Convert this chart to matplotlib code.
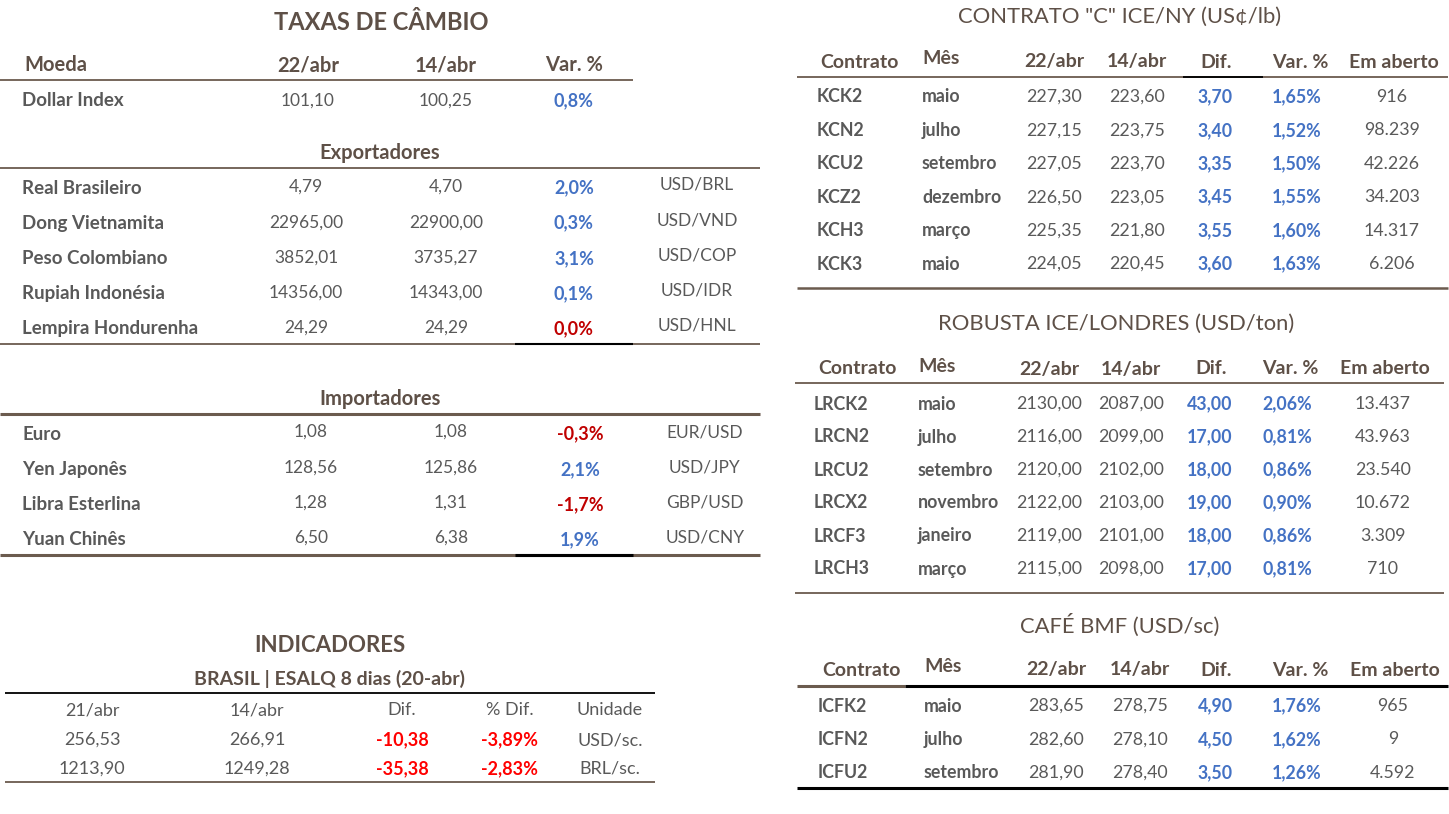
import matplotlib.pyplot as plt

plt.rcParams['font.family'] = ['Lato', 'DejaVu Sans']

# cores
MARROM = '#5e5047'
CINZA = '#595959'
AZUL = '#4472c4'
VERM = '#c00000'
VERM2 = '#ff0000'
LINHA = '#6b5b4e'

# ---- taxas de cambio ----
cab_moeda = ['Moeda', '22/abr', '14/abr', 'Var. %']
dollar_idx = ['Dollar Index', '101,10', '100,25', '0,8%']

exp_nomes = ['Real Brasileiro', 'Dong Vietnamita', 'Peso Colombiano',
             'Rupiah Indonésia', 'Lempira Hondurenha']
exp_22 = ['4,79', '22965,00', '3852,01', '14356,00', '24,29']
exp_14 = ['4,70', '22900,00', '3735,27', '14343,00', '24,29']
exp_var = ['2,0%', '0,3%', '3,1%', '0,1%', '0,0%']
exp_par = ['USD/BRL', 'USD/VND', 'USD/COP', 'USD/IDR', 'USD/HNL']

imp_nomes = ['Euro', 'Yen Japonês', 'Libra Esterlina', 'Yuan Chinês']
imp_22 = ['1,08', '128,56', '1,28', '6,50']
imp_14 = ['1,08', '125,86', '1,31', '6,38']
imp_var = ['-0,3%', '2,1%', '-1,7%', '1,9%']
imp_par = ['EUR/USD', 'USD/JPY', 'GBP/USD', 'USD/CNY']

# ---- indicadores ----
ind_cab = ['21/abr', '14/abr', 'Dif.', '% Dif.', 'Unidade']
ind_21 = ['256,53', '1213,90']
ind_14 = ['266,91', '1249,28']
ind_dif = ['-10,38', '-35,38']
ind_pct = ['-3,89%', '-2,83%']
ind_un = ['USD/sc.', 'BRL/sc.']

# ---- futuros ----
fut_cab = ['Contrato', 'Mês', '22/abr', '14/abr', 'Dif.', 'Var. %', 'Em aberto']

ny_cod = ['KCK2', 'KCN2', 'KCU2', 'KCZ2', 'KCH3', 'KCK3']
ny_mes = ['maio', 'julho', 'setembro', 'dezembro', 'março', 'maio']
ny_22 = ['227,30', '227,15', '227,05', '226,50', '225,35', '224,05']
ny_14 = ['223,60', '223,75', '223,70', '223,05', '221,80', '220,45']
ny_dif = ['3,70', '3,40', '3,35', '3,45', '3,55', '3,60']
ny_var = ['1,65%', '1,52%', '1,50%', '1,55%', '1,60%', '1,63%']
ny_ab = ['916', '98.239', '42.226', '34.203', '14.317', '6.206']

lo_cod = ['LRCK2', 'LRCN2', 'LRCU2', 'LRCX2', 'LRCF3', 'LRCH3']
lo_mes = ['maio', 'julho', 'setembro', 'novembro', 'janeiro', 'março']
lo_22 = ['2130,00', '2116,00', '2120,00', '2122,00', '2119,00', '2115,00']
lo_14 = ['2087,00', '2099,00', '2102,00', '2103,00', '2101,00', '2098,00']
lo_dif = ['43,00', '17,00', '18,00', '19,00', '18,00', '17,00']
lo_var = ['2,06%', '0,81%', '0,86%', '0,90%', '0,86%', '0,81%']
lo_ab = ['13.437', '43.963', '23.540', '10.672', '3.309', '710']

bmf_cod = ['ICFK2', 'ICFN2', 'ICFU2']
bmf_mes = ['maio', 'julho', 'setembro']
bmf_22 = ['283,65', '282,60', '281,90']
bmf_14 = ['278,75', '278,10', '278,40']
bmf_dif = ['4,90', '4,50', '3,50']
bmf_var = ['1,76%', '1,62%', '1,26%']
bmf_ab = ['965', '9', '4.592']

fig = plt.figure(figsize=(14.49, 8.14), dpi=100)
ax = fig.add_axes([0, 0, 1, 1])
ax.set_xlim(0, 1449)
ax.set_ylim(814, 0)
ax.axis('off')


def txt(x, y, s, size=12.5, color=CINZA, weight='normal', ha='center'):
    ax.text(x, y, s, fontsize=size, color=color, fontweight=weight,
            ha=ha, va='center')


def cor_var(v, neg=VERM):
    return neg if v.startswith('-') or v in ('0,0%',) else AZUL


# ======== TAXAS DE CAMBIO ========
txt(381, 22, 'TAXAS DE CÂMBIO', 17, MARROM, 'bold')
hx = [24, 308, 446, 574]
for i, h in enumerate(cab_moeda):
    txt(hx[i], 65, h, 14.5, MARROM, 'bold', 'left' if i == 0 else 'center')
ax.hlines(80, 0, 633, color=LINHA, lw=1.3)

txt(22, 101, dollar_idx[0], 13.5, CINZA, 'bold', 'left')
txt(308, 101, dollar_idx[1])
txt(446, 101, dollar_idx[2])
txt(574, 101, dollar_idx[3], 13, AZUL, 'bold')

txt(380, 153, 'Exportadores', 14.5, MARROM, 'bold')
ax.hlines(168, 0, 760, color=LINHA, lw=1.3)
for i in range(len(exp_nomes)):
    y = 188 + i * 35.2
    txt(22, y, exp_nomes[i], 13.5, CINZA, 'bold', 'left')
    txt(306, y - 1, exp_22[i])
    txt(446, y - 1, exp_14[i])
    txt(574, y, exp_var[i], 13, cor_var(exp_var[i]), 'bold')
    txt(697, y - 3, exp_par[i])
ax.hlines(344, 0, 760, color=LINHA, lw=1.3)
ax.hlines(344, 515, 633, color='black', lw=1.5)

txt(380, 399, 'Importadores', 14.5, MARROM, 'bold')
ax.hlines(414, 0, 760, color=LINHA, lw=2.2)
for i in range(len(imp_nomes)):
    y = 434 + i * 35.3
    txt(22, y, imp_nomes[i], 13.5, CINZA, 'bold', 'left')
    txt(311, y - 2, imp_22[i])
    txt(451, y - 2, imp_14[i])
    txt(580, y, imp_var[i], 13, cor_var(imp_var[i]), 'bold')
    txt(705, y - 2, imp_par[i])
ax.hlines(555, 0, 760, color=LINHA, lw=2.2)
ax.hlines(555, 515, 633, color='black', lw=2.2)

# ======== INDICADORES ========
txt(330, 645, 'INDICADORES', 16, MARROM, 'bold')
txt(330, 679, 'BRASIL | ESALQ 8 dias (20-abr)', 14, MARROM, 'bold')
ax.hlines(693, 5, 655, color='black', lw=1.3)
ix = [92, 257, 402, 510, 610]
for i, h in enumerate(ind_cab):
    txt(ix[i], 710, h, 13, CINZA)
for i in range(len(ind_21)):
    y = 740 + i * 29
    txt(ix[0], y, ind_21[i], 13)
    txt(ix[1], y, ind_14[i], 13)
    txt(ix[2], y, ind_dif[i], 13, VERM2, 'bold')
    txt(ix[3], y, ind_pct[i], 13, VERM2, 'bold')
    txt(ix[4], y, ind_un[i], 13)
ax.hlines(782, 5, 655, color=LINHA, lw=1.3)


# ======== FUTUROS ========
def tabela_fut(x0, x1, ytit, titulo, yc, cols, rows, step, cod, mes, v22,
               v14, dif, var, ab, xcod, xmes):
    txt((x0 + x1) / 2 - 3, ytit, titulo, 15.8, MARROM)
    for i, h in enumerate(fut_cab):
        xx = cols[i] if i != 1 else xmes + 19
        yy = yc - 3 if i == 1 else yc
        txt(xx, yy, h, 14, MARROM, 'bold')
    for i in range(len(cod)):
        y = rows + i * step
        txt(xcod, y, cod[i], 12.8, CINZA, 'bold', 'left')
        txt(xmes, y, mes[i], 12.8, CINZA, 'bold', 'left')
        txt(cols[2], y, v22[i], 12.8)
        txt(cols[3], y, v14[i], 12.8)
        txt(cols[4] - 1, y, dif[i], 12.8, AZUL, 'bold')
        txt(cols[5] - 3, y, var[i], 12.8, AZUL, 'bold')
        txt(cols[6] - 2, y, ab[i], 12.8)


tabela_fut(797, 1448, 17, 'CONTRATO "C" ICE/NY (US¢/lb)', 62,
           [859, 941, 1054, 1137, 1216, 1300, 1394], 97, 33.4,
           ny_cod, ny_mes, ny_22, ny_14, ny_dif, ny_var, ny_ab, 817, 922)
ax.hlines(77, 797, 1448, color=LINHA, lw=1.3)
ax.hlines(77, 1183, 1263, color='black', lw=1.3)
ax.hlines(288, 797, 1448, color=LINHA, lw=1.8)

tabela_fut(795, 1444, 324, 'ROBUSTA ICE/LONDRES (USD/ton)', 369,
           [857, 938, 1049, 1131, 1211, 1290, 1385], 404, 33,
           lo_cod, lo_mes, lo_22, lo_14, lo_dif, lo_var, lo_ab, 814, 918)
ax.hlines(383, 795, 1444, color=LINHA, lw=1.3)
ax.hlines(593, 795, 1444, color=LINHA, lw=1.3)

tabela_fut(797, 1448, 625, 'CAFÉ BMF (USD/sc)', 670,
           [861, 941, 1056, 1140, 1216, 1300, 1395], 706, 33.5,
           bmf_cod, bmf_mes, bmf_22, bmf_14, bmf_dif, bmf_var, bmf_ab, 818, 924)
ax.hlines(686, 797, 905, color=LINHA, lw=2.2)
ax.hlines(686, 905, 1448, color='black', lw=2.2)
ax.hlines(788, 797, 1448, color='black', lw=2.2)

fig.savefig('out.png', dpi=100, facecolor='white')
